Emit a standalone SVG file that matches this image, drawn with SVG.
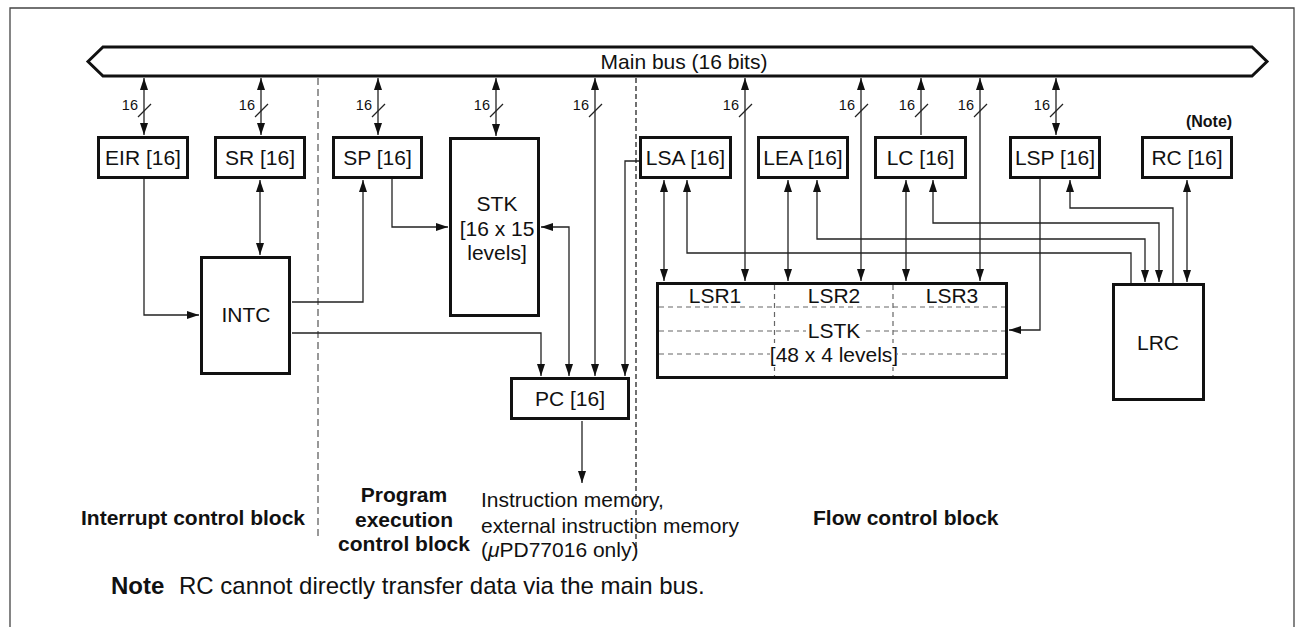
<svg xmlns="http://www.w3.org/2000/svg" width="1304" height="627" viewBox="0 0 1304 627">
<style>
text{font-family:"Liberation Sans",Arial,sans-serif;fill:#111}
.lbl{font-size:21px;text-anchor:middle}
.w{font-size:14.5px;text-anchor:end}
.b{font-weight:bold}
.box{fill:#fff;stroke:#111;stroke-width:3}
.c{fill:none;stroke:#222;stroke-width:1.3}
.d{marker-start:url(#ah);marker-end:url(#ah)}
.e{marker-end:url(#ah)}
.sl{stroke:#222;stroke-width:1.2}
.dash{fill:none;stroke:#666;stroke-width:1.2;stroke-dasharray:5 4}
</style>
<defs>
<marker id="ah" markerUnits="userSpaceOnUse" markerWidth="12" markerHeight="8" refX="12" refY="4" orient="auto-start-reverse" viewBox="0 0 12 8">
<path d="M0,0 L12,4 L0,8 z" fill="#111"/>
</marker>
</defs>
<rect width="1304" height="627" fill="#fff"/>
<path d="M10,627 V8 H1294 V627" fill="none" stroke="#444" stroke-width="1.3"/>

<g id="bus">
<polygon points="88,61.5 103,47 1252,47 1267,61.5 1252,76 103,76" fill="#fff" stroke="#111" stroke-width="3"/>
<text class="lbl" x="684" y="69">Main bus (16 bits)</text>
</g>

<g id="dividers">
<line x1="318" y1="78" x2="318" y2="540" stroke="#777" stroke-width="1.5" stroke-dasharray="7 4"/>
<line x1="636" y1="78" x2="636" y2="550" stroke="#111" stroke-width="1.2" stroke-dasharray="5 3"/>
</g>

<g id="connectors">
<path class="c d" d="M144,78 V135"/>
<path class="c d" d="M261,78 V135"/>
<path class="c d" d="M378,78 V135"/>
<path class="c d" d="M496,78 V136"/>
<path class="c d" d="M595,78 V376"/>
<path class="c d" d="M745,78 V281"/>
<path class="c d" d="M861,78 V281"/>
<path class="c e" d="M921,135 V78"/>
<path class="c d" d="M980,78 V281"/>
<path class="c d" d="M1056,78 V135"/>
<path class="c e" d="M144,179 V315 H199"/>
<path class="c d" d="M260,180 V255"/>
<path class="c e" d="M292,302 H363 V180"/>
<path class="c e" d="M392,179 V227 H448"/>
<path class="c d" d="M541,227 H569 V376"/>
<path class="c e" d="M292,333 H541 V376"/>
<path class="c e" d="M639,161 H625 V376"/>
<path class="c e" d="M582,421 V483"/>
<path class="c d" d="M664,180 V281"/>
<path class="c e" d="M1131,283 V253 H687 V180"/>
<path class="c d" d="M788,180 V281"/>
<path class="c d" d="M817,180 V239 H1145 V282"/>
<path class="c d" d="M906,180 V281"/>
<path class="c d" d="M933,180 V223 H1159 V282"/>
<path class="c e" d="M1173,283 V208 H1070 V180"/>
<path class="c e" d="M1040,179 V330 H1009"/>
<path class="c d" d="M1187,180 V282"/>
</g>

<g id="widths">
<line class="sl" x1="138" y1="117" x2="151" y2="104"/><text class="w" x="138" y="110">16</text>
<line class="sl" x1="255" y1="117" x2="268" y2="104"/><text class="w" x="255" y="110">16</text>
<line class="sl" x1="372" y1="117" x2="385" y2="104"/><text class="w" x="372" y="110">16</text>
<line class="sl" x1="490" y1="117" x2="503" y2="104"/><text class="w" x="490" y="110">16</text>
<line class="sl" x1="589" y1="117" x2="602" y2="104"/><text class="w" x="589" y="110">16</text>
<line class="sl" x1="739" y1="117" x2="752" y2="104"/><text class="w" x="739" y="110">16</text>
<line class="sl" x1="855" y1="117" x2="868" y2="104"/><text class="w" x="855" y="110">16</text>
<line class="sl" x1="915" y1="117" x2="928" y2="104"/><text class="w" x="915" y="110">16</text>
<line class="sl" x1="974" y1="117" x2="987" y2="104"/><text class="w" x="974" y="110">16</text>
<line class="sl" x1="1050" y1="117" x2="1063" y2="104"/><text class="w" x="1050" y="110">16</text>
</g>

<g id="EIR"><rect class="box" x="98.5" y="137.5" width="89" height="40"/><text class="lbl" x="143" y="165">EIR [16]</text></g>
<g id="SR"><rect class="box" x="215.5" y="137.5" width="89" height="40"/><text class="lbl" x="260" y="165">SR [16]</text></g>
<g id="SP"><rect class="box" x="333.5" y="137.5" width="88" height="40"/><text class="lbl" x="377.5" y="165">SP [16]</text></g>
<g id="STK"><rect class="box" x="450.5" y="138.5" width="88" height="177"/>
<text class="lbl" x="497" y="211">STK</text><text class="lbl" x="497" y="236">[16 x 15</text><text class="lbl" x="497" y="260">levels]</text></g>
<g id="INTC"><rect class="box" x="201.5" y="257.5" width="88" height="116"/><text class="lbl" x="246" y="322">INTC</text></g>
<g id="PC"><rect class="box" x="511.5" y="378.5" width="117" height="40"/><text class="lbl" x="570" y="406">PC [16]</text></g>
<g id="LSA"><rect class="box" x="640.5" y="137.5" width="90" height="40"/><text class="lbl" x="685.5" y="165">LSA [16]</text></g>
<g id="LEA"><rect class="box" x="758.5" y="137.5" width="89" height="40"/><text class="lbl" x="803" y="165">LEA [16]</text></g>
<g id="LC"><rect class="box" x="875.5" y="137.5" width="90" height="40"/><text class="lbl" x="920.5" y="165">LC [16]</text></g>
<g id="LSP"><rect class="box" x="1010.5" y="137.5" width="89" height="40"/><text class="lbl" x="1055" y="165">LSP [16]</text></g>
<g id="RC"><rect class="box" x="1142.5" y="137.5" width="89" height="40"/><text class="lbl" x="1187" y="165">RC [16]</text>
<text class="b" x="1209" y="127" font-size="16" text-anchor="middle">(Note)</text></g>
<g id="LSTK"><rect class="box" x="657.5" y="283.5" width="349" height="94"/>
<line class="dash" x1="774.5" y1="285" x2="774.5" y2="376"/>
<line class="dash" x1="893" y1="285" x2="893" y2="376"/>
<line class="dash" x1="659" y1="307" x2="1005" y2="307"/>
<line class="dash" x1="659" y1="331" x2="1005" y2="331"/>
<line class="dash" x1="659" y1="354" x2="1005" y2="354"/>
<rect x="806" y="318" width="56" height="24" fill="#fff"/>
<rect x="770" y="343" width="127" height="24" fill="#fff"/>
<text class="lbl" x="715" y="303">LSR1</text><text class="lbl" x="834" y="303">LSR2</text><text class="lbl" x="952" y="303">LSR3</text>
<text class="lbl" x="834" y="338">LSTK</text><text class="lbl" x="834" y="362">[48 x 4 levels]</text></g>
<g id="LRC"><rect class="box" x="1113.5" y="284.5" width="90" height="115"/><text class="lbl" x="1158" y="350">LRC</text></g>

<g id="captions" font-size="21">
<text class="b" x="81" y="525">Interrupt control block</text>
<text class="b" x="404" y="502" text-anchor="middle">Program</text>
<text class="b" x="404" y="527" text-anchor="middle">execution</text>
<text class="b" x="404" y="551" text-anchor="middle">control block</text>
<text x="481" y="507">Instruction memory,</text>
<text x="481" y="533">external instruction memory</text>
<text x="481" y="557">(<tspan font-style="italic">μ</tspan>PD77016 only)</text>
<text class="b" x="813" y="525">Flow control block</text>
</g>
<g id="note" font-size="24">
<text class="b" x="111" y="594">Note</text>
<text x="179" y="594">RC cannot directly transfer data via the main bus.</text>
</g>
</svg>
